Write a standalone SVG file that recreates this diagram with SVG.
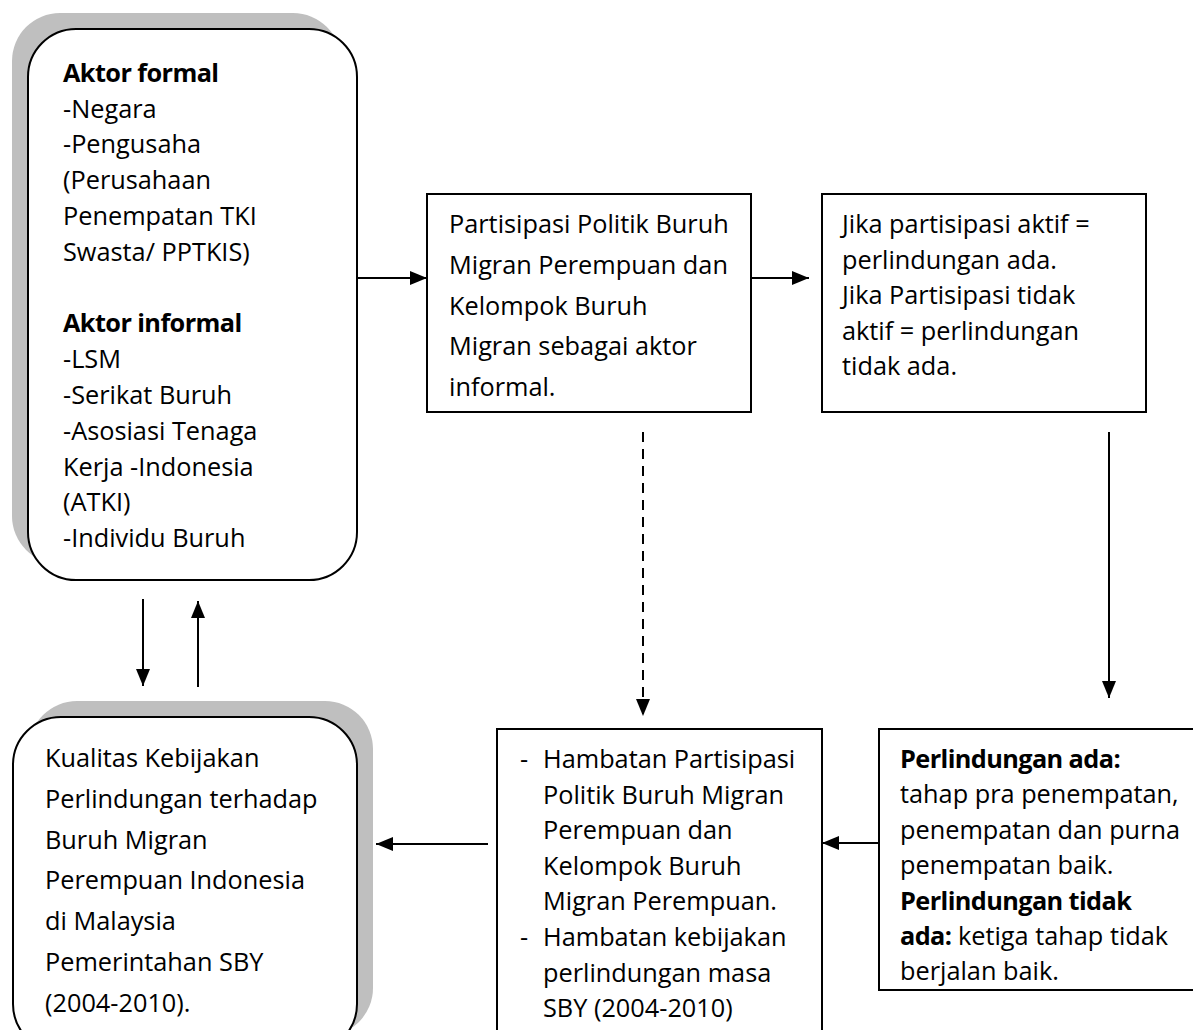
<svg xmlns="http://www.w3.org/2000/svg" width="1193" height="1030" viewBox="0 0 1193 1030">
<style>
.box{fill:#fff;stroke:#000;stroke-width:2}
.shadow{fill:#bfbfbf;stroke:none}
.t{font-family:"Open Sans","Liberation Sans",sans-serif;font-size:25.3px;fill:#000}
.b{font-weight:bold;letter-spacing:-0.6px}
.con{stroke:#000;stroke-width:2;fill:none}
.dash{stroke-dasharray:10 7}
</style>
<defs>
<marker id="ah" markerUnits="userSpaceOnUse" markerWidth="17" markerHeight="14" refX="17" refY="7" orient="auto">
<path d="M0,0 L17,7 L0,14 Z" fill="#000"/>
</marker>
</defs>
<rect width="1193" height="1030" fill="#fff"/>

<g id="node-aktor">
<rect class="shadow" x="12" y="13" width="329" height="551" rx="48"/>
<rect class="box" x="28" y="29" width="329" height="551" rx="48"/>
<text class="t" x="63">
<tspan x="63" y="81.7" class="b">Aktor formal</tspan>
<tspan x="63" y="117.5">-Negara</tspan>
<tspan x="63" y="153.3">-Pengusaha</tspan>
<tspan x="63" y="189.1">(Perusahaan</tspan>
<tspan x="63" y="224.9">Penempatan TKI</tspan>
<tspan x="63" y="260.7">Swasta/ PPTKIS)</tspan>
<tspan x="63" y="332.3" class="b">Aktor informal</tspan>
<tspan x="63" y="368.1">-LSM</tspan>
<tspan x="63" y="403.9">-Serikat Buruh</tspan>
<tspan x="63" y="439.7">-Asosiasi Tenaga</tspan>
<tspan x="63" y="475.5">Kerja -Indonesia</tspan>
<tspan x="63" y="511.3">(ATKI)</tspan>
<tspan x="63" y="547.1">-Individu Buruh</tspan>
</text>
</g>

<g id="node-partisipasi">
<rect class="box" x="427" y="194" width="324" height="218"/>
<text class="t">
<tspan x="449" y="233">Partisipasi Politik Buruh</tspan>
<tspan x="449" y="273.8">Migran Perempuan dan</tspan>
<tspan x="449" y="314.6">Kelompok Buruh</tspan>
<tspan x="449" y="355.4">Migran sebagai aktor</tspan>
<tspan x="449" y="396.2">informal.</tspan>
</text>
</g>

<g id="node-jika">
<rect class="box" x="822" y="194" width="324" height="218"/>
<text class="t">
<tspan x="842" y="233">Jika partisipasi aktif =</tspan>
<tspan x="842" y="268.5">perlindungan ada.</tspan>
<tspan x="842" y="304">Jika Partisipasi tidak</tspan>
<tspan x="842" y="339.5">aktif = perlindungan</tspan>
<tspan x="842" y="375">tidak ada.</tspan>
</text>
</g>

<g id="node-kualitas">
<rect class="shadow" x="29" y="701" width="344" height="335" rx="48"/>
<rect class="box" x="13" y="717" width="344" height="335" rx="48"/>
<text class="t">
<tspan x="45" y="767.3">Kualitas Kebijakan</tspan>
<tspan x="45" y="808">Perlindungan terhadap</tspan>
<tspan x="45" y="848.7">Buruh Migran</tspan>
<tspan x="45" y="889.4">Perempuan Indonesia</tspan>
<tspan x="45" y="930.1">di Malaysia</tspan>
<tspan x="45" y="970.8">Pemerintahan SBY</tspan>
<tspan x="45" y="1011.5">(2004-2010).</tspan>
</text>
</g>

<g id="node-hambatan">
<rect class="box" x="497" y="729" width="325" height="330"/>
<text class="t">
<tspan x="520" y="768">-</tspan>
<tspan x="543" y="768">Hambatan Partisipasi</tspan>
<tspan x="543" y="803.6">Politik Buruh Migran</tspan>
<tspan x="543" y="839.2">Perempuan dan</tspan>
<tspan x="543" y="874.8">Kelompok Buruh</tspan>
<tspan x="543" y="910.4">Migran Perempuan.</tspan>
<tspan x="520" y="946">-</tspan>
<tspan x="543" y="946">Hambatan kebijakan</tspan>
<tspan x="543" y="981.6">perlindungan masa</tspan>
<tspan x="543" y="1017.2">SBY (2004-2010)</tspan>
</text>
</g>

<g id="node-perlindungan">
<rect class="box" x="879" y="729" width="330" height="261"/>
<text class="t">
<tspan x="900" y="768" class="b">Perlindungan ada:</tspan>
<tspan x="900" y="803.4">tahap pra penempatan,</tspan>
<tspan x="900" y="838.8">penempatan dan purna</tspan>
<tspan x="900" y="874.2">penempatan baik.</tspan>
<tspan x="900" y="909.6" class="b">Perlindungan tidak</tspan>
<tspan x="900" y="945"><tspan class="b">ada:</tspan> ketiga tahap tidak</tspan>
<tspan x="900" y="980.4">berjalan baik.</tspan>
</text>
</g>

<g id="connectors">
<line class="con" x1="357" y1="278" x2="427" y2="278" marker-end="url(#ah)"/>
<line class="con" x1="751" y1="278" x2="809" y2="278" marker-end="url(#ah)"/>
<line class="con" x1="1109" y1="432" x2="1109" y2="698" marker-end="url(#ah)"/>
<line class="con dash" x1="643" y1="432" x2="643" y2="716" marker-end="url(#ah)"/>
<line class="con" x1="879" y1="843" x2="822" y2="843" marker-end="url(#ah)"/>
<line class="con" x1="488" y1="844" x2="376" y2="844" marker-end="url(#ah)"/>
<line class="con" x1="143" y1="599" x2="143" y2="686" marker-end="url(#ah)"/>
<line class="con" x1="198" y1="687" x2="198" y2="601" marker-end="url(#ah)"/>
</g>
</svg>
